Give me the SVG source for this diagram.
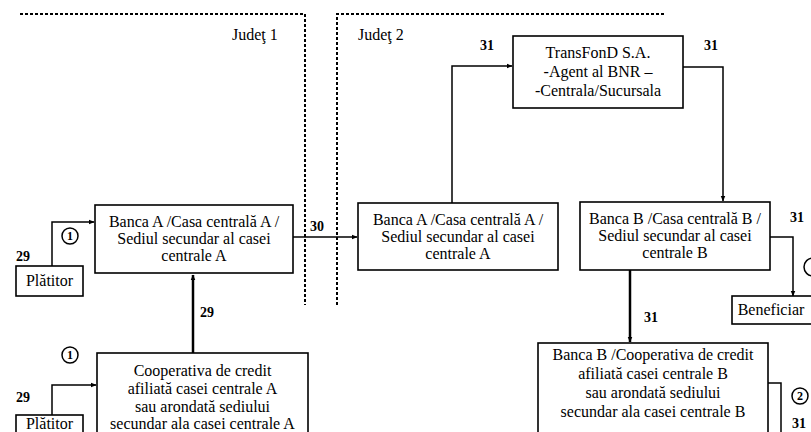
<svg xmlns="http://www.w3.org/2000/svg" width="811" height="432" viewBox="0 0 811 432">
<defs>
<style>
.box{fill:#fff;stroke:#000;stroke-width:1.6}
.t{font-family:"Liberation Serif","Times New Roman",serif;font-size:16px;fill:#000;text-anchor:middle}
.n{font-family:"Liberation Serif","Times New Roman",serif;font-size:14px;font-weight:bold;fill:#000}
.j{font-family:"Liberation Serif","Times New Roman",serif;font-size:16px;fill:#000}
.c{font-family:"Liberation Serif","Times New Roman",serif;font-size:12px;font-weight:bold;fill:#000;text-anchor:middle}
.ln{fill:none;stroke:#000;stroke-width:1.5}
.thick{fill:none;stroke:#000;stroke-width:2.5}
.dash{fill:none;stroke:#000;stroke-width:2;stroke-dasharray:3 2}
.circ{fill:#fff;stroke:#000;stroke-width:1.5}
</style>
<marker id="ah" viewBox="0 0 10 10" refX="9" refY="5" markerWidth="6" markerHeight="6" orient="auto" markerUnits="userSpaceOnUse">
<path d="M0,1 L10,5 L0,9 z" fill="#000"/>
</marker>
</defs>
<rect width="811" height="432" fill="#fff"/>

<g id="regions">
<path class="dash" d="M20,14 H305 V305"/>
<path class="dash" d="M337,305 V14 H665"/>
<text class="j" x="232" y="40">Judeţ 1</text>
<text class="j" x="358" y="40">Judeţ 2</text>
</g>

<g id="connectors">
<path class="ln" d="M52,266 V222 H94" marker-end="url(#ah)"/>
<path class="ln" d="M52,415 V385 H96" marker-end="url(#ah)"/>
<path class="thick" d="M193,353 V275" marker-end="url(#ah)"/>
<path class="ln" d="M293,237 H357" marker-end="url(#ah)"/>
<path class="ln" d="M452,203 V66 H512" marker-end="url(#ah)"/>
<path class="ln" d="M683,67 H723 V201" marker-end="url(#ah)"/>
<path class="ln" d="M770,237 H793 V296" marker-end="url(#ah)"/>
<path class="thick" d="M630,270 V342" marker-end="url(#ah)"/>
<path class="ln" d="M768,383 H781 V432"/>
<text class="n" x="16" y="261">29</text>
<text class="n" x="16" y="402">29</text>
<text class="n" x="200" y="317">29</text>
<text class="n" x="310" y="231">30</text>
<text class="n" x="480" y="50">31</text>
<text class="n" x="704" y="50">31</text>
<text class="n" x="790" y="222">31</text>
<text class="n" x="644" y="322">31</text>
<text class="n" x="792" y="428">31</text>
<circle class="circ" cx="70" cy="236" r="8"/>
<text class="c" x="70" y="240">1</text>
<circle class="circ" cx="70" cy="355" r="8"/>
<text class="c" x="70" y="359">1</text>
<circle class="circ" cx="813" cy="267" r="9"/>
<circle class="circ" cx="800" cy="396" r="8"/>
<text class="c" x="800" y="400">2</text>
</g>

<g id="platitor1">
<rect class="box" x="16" y="266" width="67" height="30"/>
<text class="t" x="49.5" y="286">Plătitor</text>
</g>
<g id="platitor2">
<rect class="box" x="16" y="415" width="67" height="30"/>
<text class="t" x="49.5" y="429">Plătitor</text>
</g>
<g id="bancaA1">
<rect class="box" x="95" y="205" width="198" height="68"/>
<text class="t" x="194" y="227">Banca A /Casa centrală A /</text>
<text class="t" x="194" y="244">Sediul secundar al casei</text>
<text class="t" x="194" y="261">centrale A</text>
</g>
<g id="coopA">
<rect class="box" x="97" y="353" width="211" height="100"/>
<text class="t" x="202.5" y="376">Cooperativa de credit</text>
<text class="t" x="202.5" y="394">afiliată casei centrale A</text>
<text class="t" x="202.5" y="412">sau arondată sediului</text>
<text class="t" x="202.5" y="429">secundar ala casei centrale A</text>
</g>
<g id="bancaA2">
<rect class="box" x="358" y="203" width="200" height="67"/>
<text class="t" x="458" y="225">Banca A /Casa centrală A /</text>
<text class="t" x="458" y="242">Sediul secundar al casei</text>
<text class="t" x="458" y="259">centrale A</text>
</g>
<g id="transfond">
<rect class="box" x="513" y="36" width="170" height="72"/>
<text class="t" x="598" y="58">TransFonD S.A.</text>
<text class="t" x="598" y="77">-Agent al BNR –</text>
<text class="t" x="598" y="96">-Centrala/Sucursala</text>
</g>
<g id="bancaB">
<rect class="box" x="580" y="202" width="190" height="68"/>
<text class="t" x="675" y="224">Banca B /Casa centrală B /</text>
<text class="t" x="675" y="241">Sediul secundar al casei</text>
<text class="t" x="675" y="258">centrale B</text>
</g>
<g id="beneficiar">
<rect class="box" x="732" y="296" width="90" height="28"/>
<text class="t" x="771" y="315">Beneficiar</text>
</g>
<g id="coopB">
<rect class="box" x="538" y="343" width="230" height="90"/>
<text class="t" x="653" y="360">Banca B /Cooperativa de credit</text>
<text class="t" x="653" y="379">afiliată casei centrale B</text>
<text class="t" x="653" y="398">sau arondată sediului</text>
<text class="t" x="653" y="417">secundar ala casei centrale B</text>
</g>
</svg>
